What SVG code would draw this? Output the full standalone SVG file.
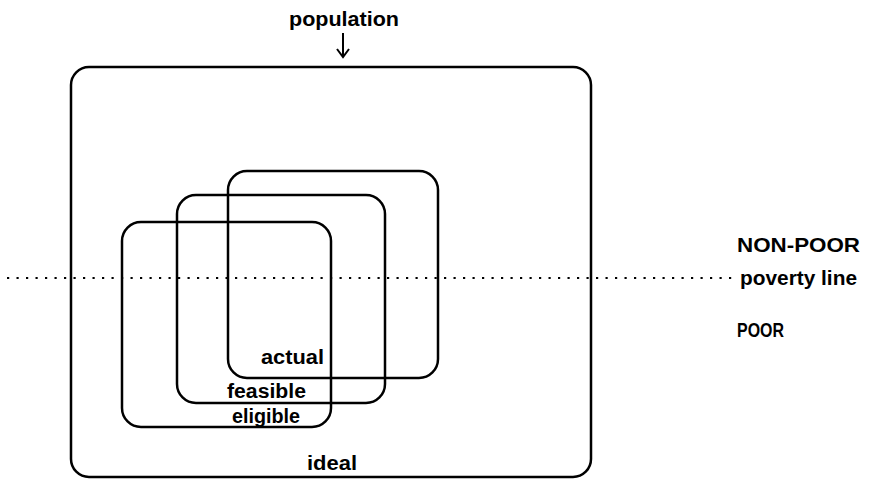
<svg xmlns="http://www.w3.org/2000/svg" width="875" height="480" viewBox="0 0 875 480">
<style>
.box{fill:none;stroke:#000;stroke-width:2.5}
.lbl{font-family:"Liberation Sans",Arial,sans-serif;font-weight:bold;font-size:20px;fill:#000}
.dot{fill:none;stroke:#000;stroke-width:2.2;stroke-dasharray:2.2 7.3}
</style>
<rect width="875" height="480" fill="#fff"/>
<g id="ideal">
<rect class="box" x="71" y="67" width="520" height="410" rx="18" ry="18"/>
<text class="lbl" x="307" y="470" textLength="50" lengthAdjust="spacingAndGlyphs">ideal</text>
</g>
<g id="population">
<text class="lbl" x="289" y="26" textLength="110" lengthAdjust="spacingAndGlyphs">population</text>
</g>
<g id="eligible">
<rect class="box" x="122" y="222" width="209" height="205" rx="19" ry="19"/>
<text class="lbl" x="232" y="423" textLength="68" lengthAdjust="spacingAndGlyphs">eligible</text>
</g>
<g id="feasible">
<rect class="box" x="177" y="195" width="208" height="208" rx="19" ry="19"/>
<text class="lbl" x="227" y="398" textLength="79" lengthAdjust="spacingAndGlyphs">feasible</text>
</g>
<g id="actual">
<rect class="box" x="228" y="171" width="210" height="207" rx="19" ry="19"/>
<text class="lbl" x="261" y="364" textLength="63" lengthAdjust="spacingAndGlyphs">actual</text>
</g>
<g id="nonpoor">
<text class="lbl" x="737" y="252" textLength="123" lengthAdjust="spacingAndGlyphs">NON-POOR</text>
</g>
<g id="povertyline">
<text class="lbl" x="740" y="285" textLength="117" lengthAdjust="spacingAndGlyphs">poverty line</text>
</g>
<g id="poor">
<text class="lbl" x="737" y="337" textLength="47" lengthAdjust="spacingAndGlyphs">POOR</text>
</g>
<g id="connectors">
<line class="dot" x1="7" y1="278" x2="737" y2="278"/>
<path d="M343,33 V57 M337,49 L343,57 L349,49" fill="none" stroke="#000" stroke-width="2"/>
</g>
</svg>
